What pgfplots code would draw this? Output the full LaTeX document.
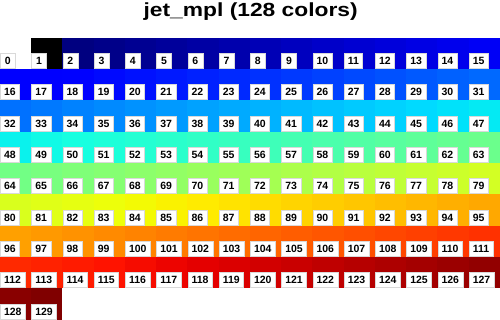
\documentclass[border=0pt]{standalone}
\usepackage{pgfplots}
\pgfplotsset{compat=1.18}
\usepackage{graphicx}
\usepackage{fontspec}
\setmainfont{Liberation Sans}
\pgfplotsset{colormap={jetmpl}{
 rgb(0pt)=(1,1,1) rgb(5pt)=(1,1,1) rgb(6pt)=(0,0,0) rgb(14pt)=(0,0,0)
 rgb(16pt)=(0,0,0.5) rgb(20pt)=(0,0,0.5)
 rgb(159.7pt)=(0,0,1) rgb(178.75pt)=(0,0,1)
 rgb(451.8pt)=(0,0.86,1) rgb(464.5pt)=(0,0.9,0.9677)
 rgb(496.25pt)=(0.0806,1,0.8871) rgb(832.8pt)=(0.9355,1,0.0323)
 rgb(845.5pt)=(0.9677,0.963,0) rgb(858.2pt)=(1,0.9259,0)
 rgb(1150.3pt)=(1,0.0741,0) rgb(1175.7pt)=(0.9091,0,0)
 rgb(1290pt)=(0.5,0,0) rgb(1292pt)=(0.5,0,0)
 rgb(1298pt)=(1,1,1) rgb(1300pt)=(1,1,1)}}
\begin{document}
\begin{tikzpicture}
\useasboundingbox (0,0) rectangle (500pt,320pt);
\begin{axis}[at={(0pt,0pt)}, anchor=south west,
 scale only axis, width=500pt, height=282pt,
 xmin=-0.5, xmax=15.5, ymin=-0.5, ymax=8.5, y dir=reverse,
 hide axis, clip=false, colormap name=jetmpl,
 point meta min=0, point meta max=130]
\addplot[matrix plot*, mesh/cols=16, point meta=explicit] table[meta=k] {
c r k
0 0 0
1 0 1
2 0 2
3 0 3
4 0 4
5 0 5
6 0 6
7 0 7
8 0 8
9 0 9
10 0 10
11 0 11
12 0 12
13 0 13
14 0 14
15 0 15
0 1 16
1 1 17
2 1 18
3 1 19
4 1 20
5 1 21
6 1 22
7 1 23
8 1 24
9 1 25
10 1 26
11 1 27
12 1 28
13 1 29
14 1 30
15 1 31
0 2 32
1 2 33
2 2 34
3 2 35
4 2 36
5 2 37
6 2 38
7 2 39
8 2 40
9 2 41
10 2 42
11 2 43
12 2 44
13 2 45
14 2 46
15 2 47
0 3 48
1 3 49
2 3 50
3 3 51
4 3 52
5 3 53
6 3 54
7 3 55
8 3 56
9 3 57
10 3 58
11 3 59
12 3 60
13 3 61
14 3 62
15 3 63
0 4 64
1 4 65
2 4 66
3 4 67
4 4 68
5 4 69
6 4 70
7 4 71
8 4 72
9 4 73
10 4 74
11 4 75
12 4 76
13 4 77
14 4 78
15 4 79
0 5 80
1 5 81
2 5 82
3 5 83
4 5 84
5 5 85
6 5 86
7 5 87
8 5 88
9 5 89
10 5 90
11 5 91
12 5 92
13 5 93
14 5 94
15 5 95
0 6 96
1 6 97
2 6 98
3 6 99
4 6 100
5 6 101
6 6 102
7 6 103
8 6 104
9 6 105
10 6 106
11 6 107
12 6 108
13 6 109
14 6 110
15 6 111
0 7 112
1 7 113
2 7 114
3 7 115
4 7 116
5 7 117
6 7 118
7 7 119
8 7 120
9 7 121
10 7 122
11 7 123
12 7 124
13 7 125
14 7 126
15 7 127
0 8 128
1 8 129
2 8 130
3 8 130
4 8 130
5 8 130
6 8 130
7 8 130
8 8 130
9 8 130
10 8 130
11 8 130
12 8 130
13 8 130
14 8 130
15 8 130
};
\addplot[draw=none, mark=none, point meta=explicit symbolic,
 nodes near coords,
 nodes near coords style={anchor=south west, xshift=0pt, yshift=1pt,
  fill=white, draw=gray!30, line width=0.5pt, inner xsep=3.8pt, inner ysep=0pt,
  text height=7.6pt, text depth=0pt,
  minimum height=15pt, minimum width=15pt, text=black,
  font=\fontsize{10.5}{10.5}\selectfont\bfseries}]
 table[meta=l] {
x y l
-0.5 0.5 0
0.5 0.5 1
1.5 0.5 2
2.5 0.5 3
3.5 0.5 4
4.5 0.5 5
5.5 0.5 6
6.5 0.5 7
7.5 0.5 8
8.5 0.5 9
9.5 0.5 10
10.5 0.5 11
11.5 0.5 12
12.5 0.5 13
13.5 0.5 14
14.5 0.5 15
-0.5 1.5 16
0.5 1.5 17
1.5 1.5 18
2.5 1.5 19
3.5 1.5 20
4.5 1.5 21
5.5 1.5 22
6.5 1.5 23
7.5 1.5 24
8.5 1.5 25
9.5 1.5 26
10.5 1.5 27
11.5 1.5 28
12.5 1.5 29
13.5 1.5 30
14.5 1.5 31
-0.5 2.5 32
0.5 2.5 33
1.5 2.5 34
2.5 2.5 35
3.5 2.5 36
4.5 2.5 37
5.5 2.5 38
6.5 2.5 39
7.5 2.5 40
8.5 2.5 41
9.5 2.5 42
10.5 2.5 43
11.5 2.5 44
12.5 2.5 45
13.5 2.5 46
14.5 2.5 47
-0.5 3.5 48
0.5 3.5 49
1.5 3.5 50
2.5 3.5 51
3.5 3.5 52
4.5 3.5 53
5.5 3.5 54
6.5 3.5 55
7.5 3.5 56
8.5 3.5 57
9.5 3.5 58
10.5 3.5 59
11.5 3.5 60
12.5 3.5 61
13.5 3.5 62
14.5 3.5 63
-0.5 4.5 64
0.5 4.5 65
1.5 4.5 66
2.5 4.5 67
3.5 4.5 68
4.5 4.5 69
5.5 4.5 70
6.5 4.5 71
7.5 4.5 72
8.5 4.5 73
9.5 4.5 74
10.5 4.5 75
11.5 4.5 76
12.5 4.5 77
13.5 4.5 78
14.5 4.5 79
-0.5 5.5 80
0.5 5.5 81
1.5 5.5 82
2.5 5.5 83
3.5 5.5 84
4.5 5.5 85
5.5 5.5 86
6.5 5.5 87
7.5 5.5 88
8.5 5.5 89
9.5 5.5 90
10.5 5.5 91
11.5 5.5 92
12.5 5.5 93
13.5 5.5 94
14.5 5.5 95
-0.5 6.5 96
0.5 6.5 97
1.5 6.5 98
2.5 6.5 99
3.5 6.5 100
4.5 6.5 101
5.5 6.5 102
6.5 6.5 103
7.5 6.5 104
8.5 6.5 105
9.5 6.5 106
10.5 6.5 107
11.5 6.5 108
12.5 6.5 109
13.5 6.5 110
14.5 6.5 111
-0.5 7.5 112
0.5 7.5 113
1.5 7.5 114
2.5 7.5 115
3.5 7.5 116
4.5 7.5 117
5.5 7.5 118
6.5 7.5 119
7.5 7.5 120
8.5 7.5 121
9.5 7.5 122
10.5 7.5 123
11.5 7.5 124
12.5 7.5 125
13.5 7.5 126
14.5 7.5 127
-0.5 8.5 128
0.5 8.5 129
};
\end{axis}
\node[anchor=base, inner sep=0pt] at (250.7pt,303.3pt)
 {\scalebox{1.2}[1]{\fontsize{19}{19}\selectfont\bfseries jet\_mpl (128 colors)}};
\end{tikzpicture}
\end{document}
